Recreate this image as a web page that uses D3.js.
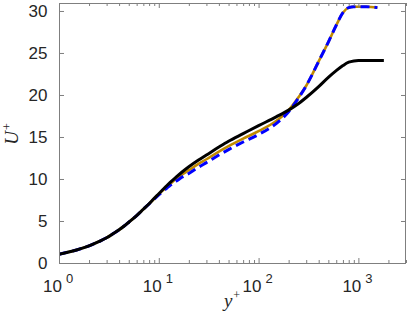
<!DOCTYPE html>
<html>
<head>
<meta charset="utf-8">
<script src="https://cdn.jsdelivr.net/npm/d3@7"></script>
<style>
  body { margin: 0; background: #fff; }
  #chart { width: 407px; height: 320px; }
  .tick-label { font-family: "Liberation Sans", Arial, sans-serif; fill: #262626; }
  .ax-label { font-family: "Liberation Serif", "DejaVu Serif", serif; font-style: italic; fill: #262626; }
</style>
</head>
<body>
<div id="chart"></div>
<script>
// y+ positions and U+ values per profile
let blackY = [1, 1.25, 1.5, 1.75, 2, 2.5, 3, 3.5, 4, 4.5, 5, 6, 7, 8, 9, 10, 11, 12, 13, 15, 17, 20, 25, 30, 40, 50, 70, 100, 150, 200, 250, 300, 400, 500, 600, 700, 800, 900, 1000, 1800];
let blackU = [1.05, 1.3, 1.55, 1.8, 2.05, 2.55, 3.0, 3.5, 3.95, 4.4, 4.85, 5.65, 6.4, 7.05, 7.7, 8.25, 8.75, 9.2, 9.6, 10.25, 10.8, 11.45, 12.25, 12.85, 13.8, 14.5, 15.4, 16.35, 17.4, 18.2, 18.95, 19.7, 21.0, 22.1, 22.9, 23.5, 23.9, 24.05, 24.1, 24.1];

let orangeY = [1, 1.25, 1.5, 1.75, 2, 2.5, 3, 3.5, 4, 4.5, 5, 6, 7, 8, 9, 10, 11, 12, 13, 15, 17, 20, 25, 30, 40, 50, 70, 100, 150, 200, 250, 300, 350, 400, 500, 600, 700, 800, 900, 1200, 1550];
let orangeU = [1.05, 1.3, 1.55, 1.8, 2.05, 2.55, 3.0, 3.5, 3.95, 4.4, 4.85, 5.65, 6.4, 7.05, 7.65, 8.2, 8.65, 9.05, 9.4, 10.05, 10.5, 11.05, 11.8, 12.35, 13.25, 13.9, 14.8, 15.7, 16.9, 18.2, 19.7, 21.1, 22.6, 24.0, 26.3, 28.3, 29.8, 30.4, 30.5, 30.5, 30.4];

let blueY = [1, 1.25, 1.5, 1.75, 2, 2.5, 3, 3.5, 4, 4.5, 5, 6, 7, 8, 9, 10, 11, 12, 13, 15, 17, 20, 25, 30, 40, 50, 70, 100, 150, 200, 250, 300, 350, 400, 500, 600, 700, 800, 900, 1200, 1550];
let blueU = [1.05, 1.3, 1.55, 1.8, 2.05, 2.55, 3.0, 3.5, 3.95, 4.4, 4.85, 5.65, 6.4, 7.05, 7.6, 8.1, 8.55, 8.9, 9.25, 9.75, 10.2, 10.65, 11.4, 11.95, 12.85, 13.5, 14.4, 15.3, 16.6, 18.0, 19.6, 21.1, 22.6, 24.0, 26.3, 28.3, 29.8, 30.4, 30.5, 30.5, 30.4];

let yTicks = [0, 5, 10, 15, 20, 25, 30];
let xDecades = [0, 1, 2, 3];

let drawChart = function() {
    let W = 407, H = 320,
        left = 59, right = 406, top = 3, bottom = 263;

    let svg = d3.select("#chart").append("svg")
        .attr("width", W)
        .attr("height", H);

    let x = d3.scaleLog().domain([1, 3000]).range([left, right]);
    let y = d3.scaleLinear().domain([0, 30.95]).range([bottom, top]);

    svg.append("clipPath").attr("id", "plotclip")
      .append("rect")
        .attr("x", left).attr("y", top)
        .attr("width", right - left).attr("height", bottom - top);

    let line = d3.line()
        .x(function(d) { return x(d[0]); })
        .y(function(d) { return y(d[1]); })
        .curve(d3.curveMonotoneX);

    let g = svg.append("g").attr("clip-path", "url(#plotclip)");

    g.append("path")
        .datum(d3.zip(orangeY, orangeU))
        .attr("d", line)
        .attr("fill", "none")
        .attr("stroke", "#c08a00")
        .attr("stroke-width", 2.6);

    g.append("path")
        .datum(d3.zip(blueY, blueU))
        .attr("d", line)
        .attr("fill", "none")
        .attr("stroke", "#0000ff")
        .attr("stroke-width", 3)
        .attr("stroke-dasharray", "9,5");

    g.append("path")
        .datum(d3.zip(blackY, blackU))
        .attr("d", line)
        .attr("fill", "none")
        .attr("stroke", "#000")
        .attr("stroke-width", 3);

    // axes: ticks pointing inward, box all round
    let minor = [];
    for (let e = 0; e < 4; e++) {
        for (let k = 2; k <= 9; k++) {
            let v = k * Math.pow(10, e);
            if (v <= 3000) minor.push(v);
        }
    }
    let majors = xDecades.map(function(e) { return Math.pow(10, e); });

    let axisColor = "#7f7f7f";

    svg.append("g").attr("transform", "translate(0," + bottom + ")")
        .call(d3.axisBottom(x).tickValues(majors).tickSizeInner(-5).tickSizeOuter(0).tickFormat(""));
    svg.append("g").attr("transform", "translate(0," + bottom + ")")
        .call(d3.axisBottom(x).tickValues(minor).tickSizeInner(-3).tickSizeOuter(0).tickFormat(""));
    svg.append("g").attr("transform", "translate(0," + top + ")")
        .call(d3.axisTop(x).tickValues(majors).tickSizeInner(-5).tickSizeOuter(0).tickFormat(""));
    svg.append("g").attr("transform", "translate(0," + top + ")")
        .call(d3.axisTop(x).tickValues(minor).tickSizeInner(-3).tickSizeOuter(0).tickFormat(""));
    svg.append("g").attr("transform", "translate(" + left + ",0)")
        .call(d3.axisLeft(y).tickValues(yTicks).tickSizeInner(-5).tickSizeOuter(0).tickFormat(""));
    svg.append("g").attr("transform", "translate(" + right + ",0)")
        .call(d3.axisRight(y).tickValues(yTicks).tickSizeInner(-5).tickSizeOuter(0).tickFormat(""));

    svg.selectAll(".domain").remove();
    svg.selectAll(".tick line").attr("stroke", axisColor).attr("stroke-width", 1);

    svg.append("rect")
        .attr("x", left + 0.5).attr("y", top + 0.5)
        .attr("width", right - left - 1).attr("height", bottom - top)
        .attr("fill", "none")
        .attr("stroke", axisColor)
        .attr("stroke-width", 1);

    // y tick labels
    svg.selectAll("text.ylab")
        .data(yTicks)
      .enter().append("text")
        .attr("class", "tick-label")
        .attr("x", 47.5)
        .attr("y", function(d) { return y(d) + 6; })
        .attr("text-anchor", "end")
        .attr("font-size", 17)
        .text(function(d) { return d; });

    // x tick labels, 10 with exponent
    let xl = svg.selectAll("text.xlab")
        .data(xDecades)
      .enter().append("text")
        .attr("class", "tick-label")
        .attr("x", function(d) { return x(Math.pow(10, d)) - 16; })
        .attr("y", 292)
        .attr("font-size", 17);
    xl.append("tspan").text("10");
    xl.append("tspan")
        .attr("dx", 4)
        .attr("dy", -9)
        .attr("font-size", 13)
        .text(function(d) { return d; });

    // axis labels
    let xt = svg.append("text")
        .attr("class", "ax-label")
        .attr("x", 232)
        .attr("y", 307)
        .attr("text-anchor", "middle")
        .attr("font-size", 19);
    xt.append("tspan").text("y");
    xt.append("tspan").attr("dx", 1).attr("dy", -8).attr("font-size", 12).attr("font-style", "normal").text("+");

    let yt = svg.append("text")
        .attr("class", "ax-label")
        .attr("transform", "translate(18,134) rotate(-90)")
        .attr("text-anchor", "middle")
        .attr("font-size", 19);
    yt.append("tspan").text("U");
    yt.append("tspan").attr("dx", 1).attr("dy", -7).attr("font-size", 12).attr("font-style", "normal").text("+");
};

drawChart();
</script>
</body>
</html>
